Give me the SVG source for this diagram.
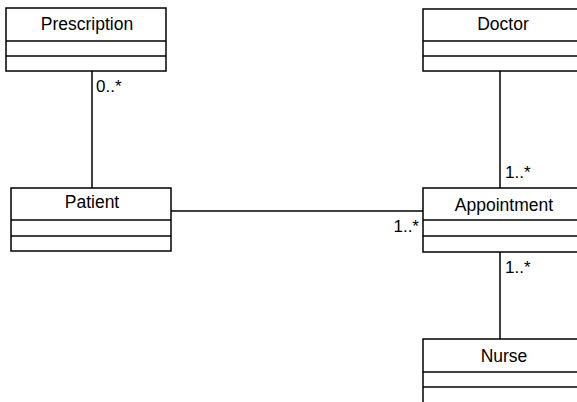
<svg xmlns="http://www.w3.org/2000/svg" width="577" height="402" viewBox="0 0 577 402">
<style>
.box{fill:#fff;stroke:#000;stroke-width:1.5}
.sep{stroke:#000;stroke-width:1.5}
.name{font-family:"Liberation Sans",Arial,sans-serif;font-size:17.5px;text-anchor:middle;fill:#000}
.mult{font-family:"Liberation Sans",Arial,sans-serif;font-size:17px;fill:#000}
.conn{stroke:#000;stroke-width:1.5;fill:none}
</style>
<rect width="577" height="402" fill="#fff"/>
<g id="connectors">
<line class="conn" x1="92" y1="71" x2="92" y2="188"/>
<line class="conn" x1="500" y1="71" x2="500" y2="188"/>
<line class="conn" x1="171" y1="211" x2="423" y2="211"/>
<line class="conn" x1="500" y1="252" x2="500" y2="339"/>
<text class="mult" x="96" y="92">0..*</text>
<text class="mult" x="505" y="178">1..*</text>
<text class="mult" x="419" y="232" text-anchor="end">1..*</text>
<text class="mult" x="505" y="273">1..*</text>
</g>
<g id="prescription">
<rect class="box" x="6" y="8" width="160" height="63"/>
<line class="sep" x1="6" y1="41" x2="166" y2="41"/>
<line class="sep" x1="6" y1="56" x2="166" y2="56"/>
<text class="name" x="87" y="30">Prescription</text>
</g>
<g id="doctor">
<rect class="box" x="423" y="9" width="160" height="62"/>
<line class="sep" x1="423" y1="41" x2="583" y2="41"/>
<line class="sep" x1="423" y1="56" x2="583" y2="56"/>
<text class="name" x="503" y="30">Doctor</text>
</g>
<g id="patient">
<rect class="box" x="11" y="188" width="160" height="63"/>
<line class="sep" x1="11" y1="220" x2="171" y2="220"/>
<line class="sep" x1="11" y1="236" x2="171" y2="236"/>
<text class="name" x="92" y="208">Patient</text>
</g>
<g id="appointment">
<rect class="box" x="423" y="188" width="160" height="64"/>
<line class="sep" x1="423" y1="220" x2="583" y2="220"/>
<line class="sep" x1="423" y1="236" x2="583" y2="236"/>
<text class="name" x="504" y="211">Appointment</text>
</g>
<g id="nurse">
<rect class="box" x="423" y="339" width="160" height="70"/>
<line class="sep" x1="423" y1="372" x2="583" y2="372"/>
<line class="sep" x1="423" y1="387" x2="583" y2="387"/>
<text class="name" x="504" y="362">Nurse</text>
</g>
</svg>
